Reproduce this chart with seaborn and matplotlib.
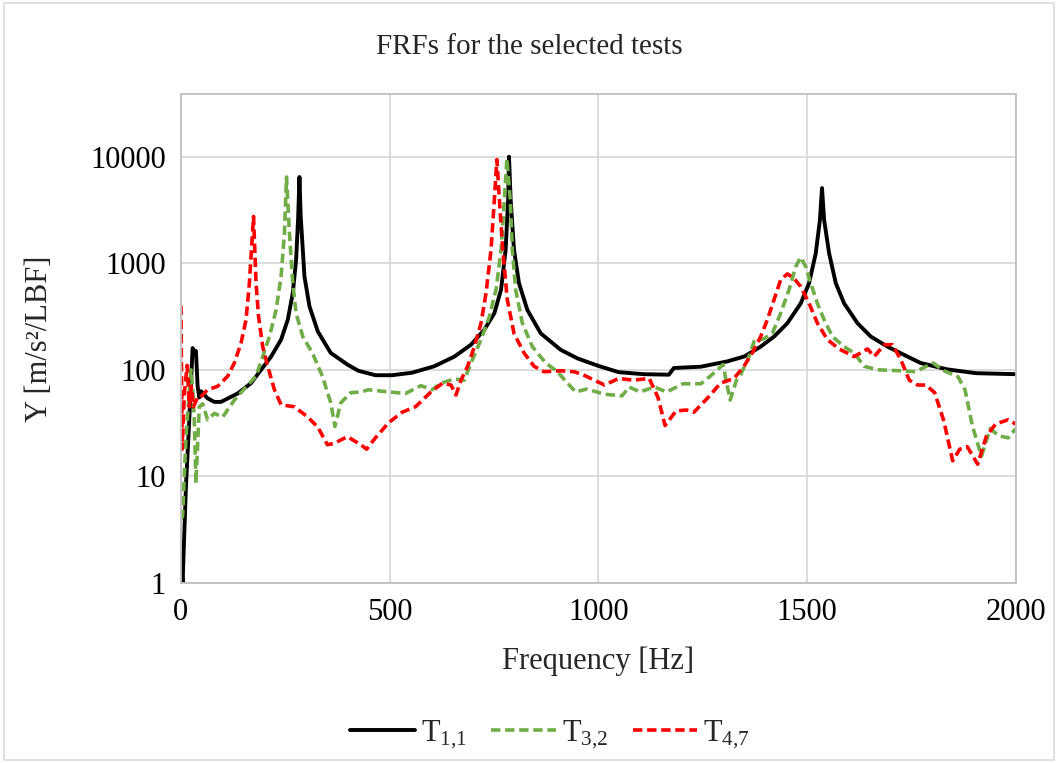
import matplotlib
matplotlib.use("Agg")
import matplotlib.pyplot as plt
import seaborn as sns
import pandas as pd
from matplotlib.patches import Rectangle

# ---- data ----
freq_t11 = [0, 4, 12, 20, 28, 32, 36, 40, 44, 48, 64, 80, 96, 136, 168, 192, 216, 240, 256, 268,
            276, 281, 284, 287, 296, 308, 328, 359, 399, 425, 466, 506, 554, 607, 655, 695, 727,
            751, 767, 778, 784, 786, 790, 798, 810, 830, 862, 910, 950, 1000, 1049, 1109, 1169,
            1181, 1246, 1309, 1349, 1389, 1421, 1453, 1485, 1505, 1521, 1531, 1536, 1541, 1553,
            1569, 1589, 1621, 1653, 1693, 1741, 1772, 1836, 1905, 2000]
y_t11 = [1.8, 1, 8, 34, 160, 150, 150, 70, 55, 63, 54, 50, 50, 60, 75, 100, 133, 192, 295, 525,
         1080, 2750, 6450, 2750, 750, 394, 229, 144, 112, 98, 89, 89, 94, 108, 133, 172, 238,
         340, 565, 1340, 3970, 10000, 3970, 1340, 650, 365, 220, 154, 128, 109, 95, 91, 90,
         104, 107, 120, 133, 165, 205, 274, 420, 650, 1240, 2560, 5080, 2560, 1240,
         650, 420, 274, 205, 165, 133, 116, 101, 93, 91]

freq_t32 = [0, 4, 12, 20, 24, 28, 32, 36, 44, 52, 64, 80, 100, 128, 160, 180, 196, 212, 228, 240,
            248, 253, 260, 268, 276, 292, 315, 339, 359, 369, 383, 407, 431, 449, 498, 538, 575,
            602, 623, 655, 679, 695, 719, 739, 755, 767, 775, 781, 789, 794, 802, 818, 842, 874,
            902, 926, 946, 972, 1015, 1057, 1074, 1100, 1134, 1164, 1203, 1246, 1271, 1299, 1306,
            1316, 1331, 1341, 1361, 1373, 1397, 1417, 1437, 1457, 1473, 1485, 1497, 1509, 1525,
            1541, 1561, 1589, 1613, 1637, 1669, 1725, 1760, 1802, 1828, 1862, 1879, 1896, 1918,
            1939, 1960, 1982, 2000]
y_t32 = [4, 4.2, 23, 60, 100, 70, 34, 8.6, 45, 48, 34, 39, 36, 52, 72, 87, 133, 205, 365, 750,
         1920, 6450, 1920, 650, 340, 205, 144, 87, 49, 29.4, 49, 61, 62, 65, 62, 60, 71,
         65, 75, 82, 80, 116, 192, 316, 565, 1340, 3970, 9600, 3970, 1340, 565, 274, 165, 116,
         96, 75, 62, 66, 59, 57, 69, 62, 69, 62, 74, 74, 89, 112, 80,
         52, 80, 90, 133, 184, 196, 220, 340, 565, 930, 1140, 930, 650, 420,
         295, 205, 165, 144, 108, 100, 98, 96, 116, 98, 86, 64, 30, 15.5,
         28, 24, 23, 28]

freq_t47 = [0, 3, 8, 15, 20, 25, 30, 40, 44, 64, 88, 112, 128, 144, 156, 164, 169, 174, 180, 186,
            196, 208, 224, 240, 272, 304, 328, 351, 367, 399, 431, 445, 466, 498, 530, 562, 599,
            627, 647, 659, 671, 687, 703, 719, 731, 743, 751, 757, 763, 771, 782, 798, 822, 846,
            870, 910, 942, 963, 1015, 1049, 1083, 1122, 1143, 1160, 1186, 1211, 1229, 1263, 1293,
            1325, 1349, 1369, 1389, 1405, 1421, 1437, 1453, 1469, 1485, 1505, 1525, 1549, 1577,
            1613, 1645, 1661, 1685, 1705, 1725, 1745, 1765, 1785, 1806, 1828, 1849, 1866, 1884,
            1909, 1930, 1952, 1982, 2000]
y_t47 = [400, 18, 60, 110, 45, 70, 45, 55, 54, 65, 70, 87, 116, 178, 295, 650, 1340, 2750, 650, 316,
         165, 108, 65, 47, 45, 36, 29, 19.8, 20.4, 23.6, 19.8, 18, 23, 32, 40, 45, 62,
         75, 72, 58, 80, 108, 165, 274, 525, 1340, 3970, 9400, 3970, 1340, 455, 220, 144, 108,
         96, 98, 96, 90, 72, 83, 80, 83, 55, 30, 41, 42, 40, 55, 75,
         83, 108, 144, 205, 295, 455, 700, 795, 720, 605, 420, 274, 192, 157,
         133, 157, 133, 172, 172, 124, 80, 72, 72, 61, 33, 14, 18, 19,
         13, 24, 31, 34, 31]

series_names = ["T$_{1{,}1}$", "T$_{3{,}2}$", "T$_{4{,}7}$"]
x_ticks = [0, 500, 1000, 1500, 2000]
y_ticks = [1, 10, 100, 1000, 10000]
y_tick_labels = ["1", "10", "100", "1000", "10000"]

# ---- plotting ----
sns.set_theme(style="white")
plt.rcParams["font.family"] = ["Liberation Serif", "DejaVu Serif"]
plt.rcParams["mathtext.fontset"] = "custom"
plt.rcParams["mathtext.rm"] = "Liberation Serif"
plt.rcParams["mathtext.it"] = "Liberation Serif"

fig = plt.figure(figsize=(10.58, 7.63), dpi=100)
ax = fig.add_axes([0.171, 0.236, 0.789, 0.641])

df1 = pd.DataFrame({"f": freq_t11, "y": y_t11})
df2 = pd.DataFrame({"f": freq_t32, "y": y_t32})
df3 = pd.DataFrame({"f": freq_t47, "y": y_t47})

sns.lineplot(data=df1, x="f", y="y", ax=ax, color="black", lw=2.8, sort=False,
             estimator=None, label=series_names[0])
sns.lineplot(data=df2, x="f", y="y", ax=ax, color="#70AD47", lw=2.6, sort=False,
             estimator=None, label=series_names[1], linestyle=(0, (2.6, 1.3)))
sns.lineplot(data=df3, x="f", y="y", ax=ax, color="#FF0000", lw=2.6, sort=False,
             estimator=None, label=series_names[2], linestyle=(0, (2.6, 1.3)))

ax.set_yscale("log")
ax.set_xlim(0, 2000)
ax.set_ylim(1, 10 ** 4.59)
ax.set_xticks(x_ticks)
ax.set_xticklabels([str(v) for v in x_ticks])
ax.set_yticks(y_ticks)
ax.set_yticklabels(y_tick_labels)
ax.yaxis.set_minor_locator(matplotlib.ticker.NullLocator())
ax.tick_params(axis="x", labelsize=22, length=0, pad=11, colors="black")
ax.tick_params(axis="y", labelsize=22, length=0, pad=11, colors="black")
ax.grid(True, which="major", color="#D9D9D9", lw=1.3)
for s in ax.spines.values():
    s.set_color("#BFBFBF")
    s.set_linewidth(1.3)

ax.set_xlabel("Frequency [Hz]", fontsize=22, labelpad=14)
ax.set_ylabel("Y [m/s²/LBF]", fontsize=22, labelpad=26)
fig.text(0.5, 0.939, "FRFs for the selected tests", ha="center", va="center", fontsize=21)

ax.get_legend().remove()
handles, labels = ax.get_legend_handles_labels()
fig.legend(handles, labels, loc="center", bbox_to_anchor=(0.52, 0.037), ncol=3, frameon=False,
           fontsize=22, handlelength=2.1, columnspacing=0.8, handletextpad=0.2)

fig.patches.append(Rectangle((0.004, 0.004), 0.992, 0.992, transform=fig.transFigure,
                             fill=False, edgecolor="#D9D9D9", lw=1.2))

fig.savefig("out.png", dpi=100)
